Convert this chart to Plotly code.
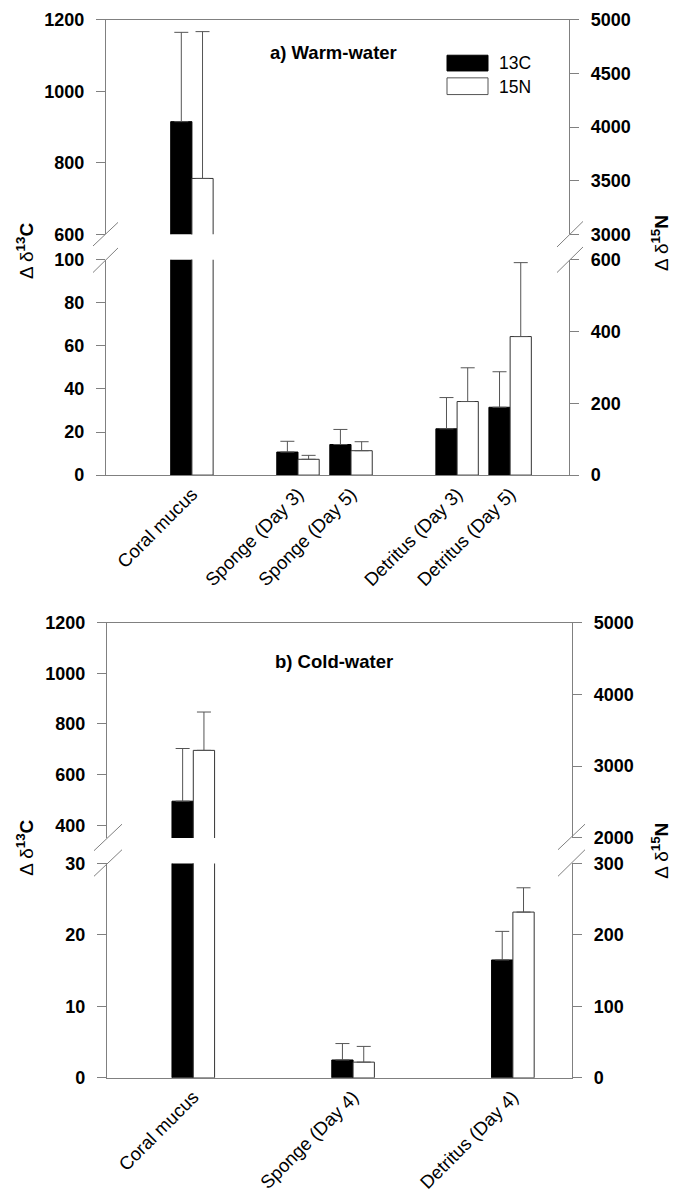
import plotly.graph_objects as go

W, H = 675, 1197


def px(x):
    return x / W


def py(y):
    return (H - y) / H


# ---------------- data ----------------
cat_a = ["Coral mucus", "Sponge (Day 3)", "Sponge (Day 5)", "Detritus (Day 3)", "Detritus (Day 5)"]
pos_a = [0, 2, 3, 5, 6]
c13_a = [915, 10.7, 14.2, 21.5, 31.5]
c13_a_err = [250, 5, 7, 14.5, 16.5]
n15_a = [3520, 44, 68, 205, 386]
n15_a_err = [1370, 11, 25, 94, 206]

cat_b = ["Coral mucus", "Sponge (Day 4)", "Detritus (Day 4)"]
pos_b = [0, 3, 6]
c13_b = [495, 2.5, 16.5]
c13_b_err = [208, 2.3, 4]
n15_b = [3220, 22, 232]
n15_b_err = [534, 22, 34]

FONT = "Liberation Sans"
GRAY = "#808080"
ERRC = "#555555"


def bars(xpos, vals, errs, xa, ya, black):
    return go.Bar(
        x=xpos, y=vals, xaxis=xa, yaxis=ya,
        width=0.4, offset=-0.4 if black else 0,
        marker=dict(color="black" if black else "white",
                    line=dict(color="black" if black else "#333333", width=1)),
        error_y=dict(type="data", array=errs, arrayminus=[0] * len(errs),
                     symmetric=False, color=ERRC, thickness=1, width=7),
        showlegend=False, hoverinfo="skip",
    )


fig = go.Figure()
# panel a: lower (x, y, y2) and upper (x2, y3, y4)
fig.add_trace(bars(pos_a, c13_a, c13_a_err, "x", "y", True))
fig.add_trace(bars(pos_a, n15_a, n15_a_err, "x", "y2", False))
fig.add_trace(bars(pos_a, c13_a, c13_a_err, "x2", "y3", True))
fig.add_trace(bars(pos_a, n15_a, n15_a_err, "x2", "y4", False))
# panel b: lower (x3, y5, y6) and upper (x4, y7, y8)
fig.add_trace(bars(pos_b, c13_b, c13_b_err, "x3", "y5", True))
fig.add_trace(bars(pos_b, n15_b, n15_b_err, "x3", "y6", False))
fig.add_trace(bars(pos_b, c13_b, c13_b_err, "x4", "y7", True))
fig.add_trace(bars(pos_b, n15_b, n15_b_err, "x4", "y8", False))

tickfont_b = dict(family=FONT, size=18, color="black", weight="bold")
tickfont_r = dict(family=FONT, size=18.5, color="black")

ybase = dict(showline=True, linecolor=GRAY, linewidth=1.3, showgrid=False, zeroline=False,
             ticks="outside", ticklen=9, tickcolor=GRAY, tickwidth=1.3, tickfont=tickfont_b,
             ticklabelstandoff=8)
xbase = dict(showline=True, linecolor=GRAY, linewidth=1.3, showgrid=False, zeroline=False,
             ticks="")

dom_a = [px(106), px(569)]
dom_b = [px(107), px(572)]
rng = [-1.62, 7.11]

fig.update_layout(
    width=W, height=H,
    margin=dict(l=0, r=0, t=0, b=0),
    paper_bgcolor="white", plot_bgcolor="rgba(0,0,0,0)",
    barmode="overlay",
    showlegend=False,
    font=dict(family=FONT, color="black"),
    xaxis=dict(**xbase, domain=dom_a, range=rng, anchor="y", tickvals=pos_a, ticktext=cat_a,
               tickangle=-45, tickfont=tickfont_r),
    xaxis2=dict(**xbase, domain=dom_a, range=rng, matches="x", anchor="y3", side="top",
                showticklabels=False),
    xaxis3=dict(**xbase, domain=dom_b, range=rng, anchor="y5", tickvals=pos_b, ticktext=cat_b,
                tickangle=-45, tickfont=tickfont_r),
    xaxis4=dict(**xbase, domain=dom_b, range=rng, matches="x3", anchor="y7", side="top",
                showticklabels=False),
    yaxis=dict(**ybase, domain=[py(473), py(254)], range=[0, 100], dtick=20, anchor="x"),
    yaxis2=dict(**ybase, overlaying="y", side="right", anchor="x", range=[0, 600], dtick=200),
    yaxis3=dict(**ybase, domain=[py(228), py(10)], range=[600, 1200], dtick=200, anchor="x2"),
    yaxis4=dict(**ybase, overlaying="y3", side="right", anchor="x2", range=[3000, 5000], dtick=500),
    yaxis5=dict(**ybase, domain=[py(1086), py(868)], range=[0, 30], dtick=10, anchor="x3"),
    yaxis6=dict(**ybase, overlaying="y5", side="right", anchor="x3", range=[0, 300], dtick=100),
    yaxis7=dict(**ybase, domain=[py(842), py(623)], range=[350, 1200],
                tickvals=[400, 600, 800, 1000, 1200], anchor="x4"),
    yaxis8=dict(**ybase, overlaying="y7", side="right", anchor="x4", range=[2000, 5000], dtick=1000),
)

# axis break marks
breaks = [
    ((93, 240), (118, 216)), ((93, 267), (118, 242)),
    ((557, 241), (583, 215)), ((557, 267), (583, 241)),
    ((94, 855), (122, 828)), ((94, 881), (122, 854)),
    ((558, 854), (585, 828)), ((558, 881), (585, 854)),
]
for (xa0, ya0), (xa1, ya1) in breaks:
    fig.add_shape(type="line", xref="paper", yref="paper",
                  x0=px(xa0), y0=py(ya0), x1=px(xa1), y1=py(ya1),
                  line=dict(color=GRAY, width=1))

# legend (panel a)
fig.add_shape(type="rect", xref="paper", yref="paper", x0=px(447), x1=px(488), y0=py(62), y1=py(46),
              fillcolor="black", line=dict(color="black", width=1))
fig.add_shape(type="rect", xref="paper", yref="paper", x0=px(447), x1=px(488), y0=py(86), y1=py(69),
              fillcolor="white", line=dict(color="#555555", width=1))
for txt, yy in [("13C", 54), ("15N", 78)]:
    fig.add_annotation(text=txt, xref="paper", yref="paper", x=px(497), y=py(yy),
                       xanchor="left", yanchor="middle", showarrow=False,
                       font=dict(family=FONT, size=17.5, color="black"))

# panel titles
fig.add_annotation(text="a) Warm-water", xref="paper", yref="paper", x=px(333), y=py(43),
                   xanchor="center", yanchor="middle", showarrow=False,
                   font=dict(family=FONT, size=18.5, color="black", weight="bold"))
fig.add_annotation(text="b) Cold-water", xref="paper", yref="paper", x=px(334), y=py(663),
                   xanchor="center", yanchor="middle", showarrow=False,
                   font=dict(family=FONT, size=18.5, color="black", weight="bold"))

# axis titles
for yl, yr in [(245, 237), (852, 855)]:
    fig.add_annotation(text="Δ δ<sup><b>13</b></sup><b>C</b>", xref="paper", yref="paper",
                       x=px(25), y=py(yl), textangle=-90, showarrow=False,
                       xanchor="center", yanchor="middle",
                       font=dict(family=FONT, size=19, color="black"))
    fig.add_annotation(text="Δ δ<sup><b>15</b></sup><b>N</b>", xref="paper", yref="paper",
                       x=px(660), y=py(yr), textangle=-90, showarrow=False,
                       xanchor="center", yanchor="middle",
                       font=dict(family=FONT, size=19, color="black"))

fig.write_html(
    "out.html",
    config={"displayModeBar": False},
    post_script="document.body.style.margin='0';document.body.style.padding='0';"
                "document.documentElement.style.overflow='hidden';",
)
